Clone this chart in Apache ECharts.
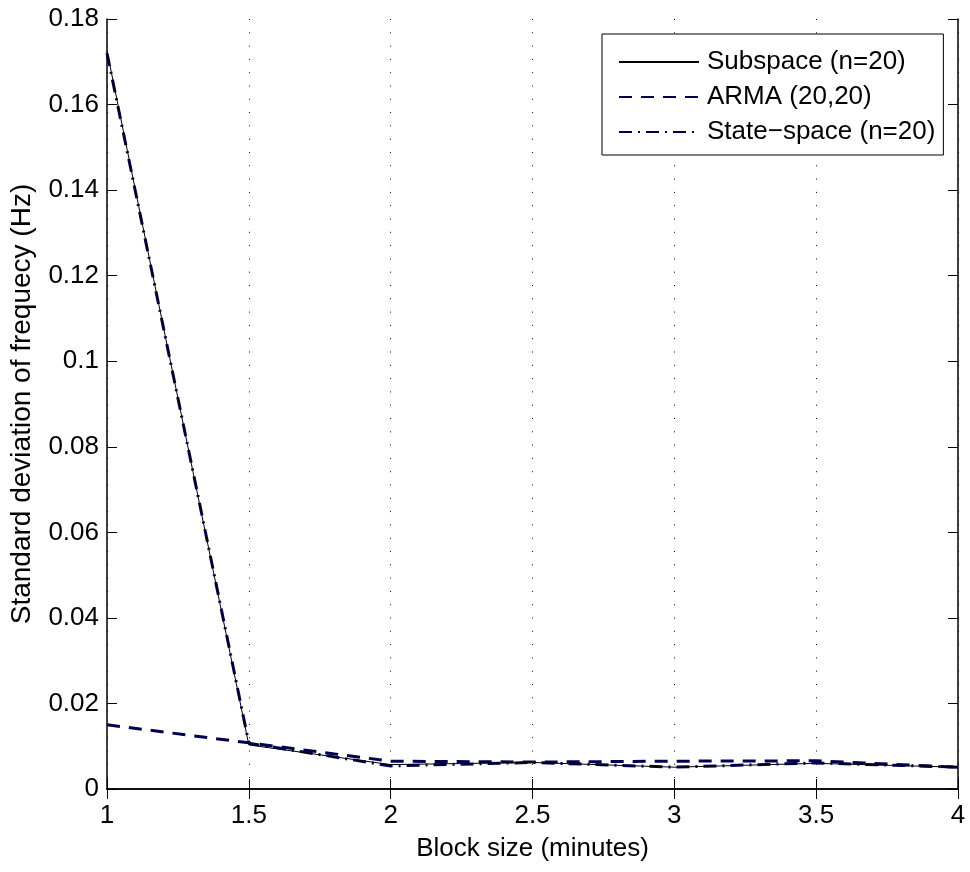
<!DOCTYPE html>
<html>
<head>
<meta charset="utf-8">
<script src="https://cdn.jsdelivr.net/npm/echarts@6/dist/echarts.min.js"></script>
<style>html,body{margin:0;padding:0;background:#fff;}#chart{width:970px;height:872px;}</style>
</head>
<body>
<div id="chart"></div>
<script>
var blockSizes = [1, 1.5, 2, 2.5, 3, 3.5, 4];
var subspace = [0.1725, 0.0103, 0.0057, 0.0062, 0.0051, 0.0060, 0.0051];
var arma = [0.0150, 0.0108, 0.0065, 0.0063, 0.0065, 0.0066, 0.0051];
var stateSpace = [0.1720, 0.0107, 0.0054, 0.0062, 0.0051, 0.0061, 0.0051];
var seriesNames = ['Subspace (n=20)', 'ARMA (20,20)', 'State\u2212space (n=20)'];
var xTicks = ['1', '1.5', '2', '2.5', '3', '3.5', '4'];
var yTicks = ['0', '0.02', '0.04', '0.06', '0.08', '0.1', '0.12', '0.14', '0.16', '0.18'];

function pairs(ys) { return blockSizes.map(function (x, i) { return [x, ys[i]]; }); }
var font = 'Liberation Sans, Arial, Helvetica, sans-serif';
var navy = '#000050';
var fs = 26;

var chart = echarts.init(document.getElementById('chart'));
chart.setOption({
  animation: false,
  backgroundColor: '#fff',
  textStyle: { fontFamily: font },
  grid: { left: 107, right: 12, top: 19, bottom: 83, containLabel: false, outerBoundsMode: 'none' },
  legend: {
    orient: 'vertical',
    left: 602, top: 34,
    backgroundColor: '#fff',
    borderColor: '#000', borderWidth: 1,
    padding: [15, 8, 10, 16],
    itemWidth: 80, itemHeight: 14, itemGap: 9,
    itemStyle: { opacity: 0 },
    textStyle: { fontSize: fs, color: '#000', fontFamily: font, padding: [0, 0, 0, 3] },
    data: seriesNames
  },
  xAxis: [{
    type: 'value', min: 1, max: 4, interval: 0.5,
    name: 'Block size (minutes)', nameLocation: 'middle', nameGap: 47,
    nameTextStyle: { fontSize: fs, color: '#000' },
    axisLine: { lineStyle: { color: '#000', width: 1.5 } },
    axisTick: { inside: true, length: 10, lineStyle: { color: '#000' } },
    axisLabel: { fontSize: fs, color: '#000', margin: 14,
      formatter: function (v) { var i = Math.round((v - 1) / 0.5); return xTicks[i] || ''; } },
    splitLine: { show: true, lineStyle: { color: '#000', type: [1, 12.3], width: 1 } }
  }, {
    type: 'value', min: 1, max: 4, interval: 0.5, position: 'top',
    axisLine: { lineStyle: { color: '#000', width: 1.5 } },
    axisTick: { inside: true, length: 10, lineStyle: { color: '#000' } },
    axisLabel: { show: false }, splitLine: { show: false }
  }],
  yAxis: [{
    type: 'value', min: 0, max: 0.18, interval: 0.02,
    name: 'Standard deviation of frequecy (Hz)', nameLocation: 'middle', nameGap: 71,
    nameTextStyle: { fontSize: 28, color: '#000' },
    axisLine: { show: true, lineStyle: { color: '#000', width: 1.5 } },
    axisTick: { show: true, inside: true, length: 10, lineStyle: { color: '#000' } },
    axisLabel: { fontSize: fs, color: '#000', margin: 8,
      formatter: function (v) { var i = Math.round(v / 0.02); return yTicks[i] || ''; } },
    splitLine: { show: false }
  }, {
    type: 'value', min: 0, max: 0.18, interval: 0.02, position: 'right',
    axisLine: { show: true, lineStyle: { color: '#000', width: 1.5 } },
    axisTick: { show: true, inside: true, length: 10, lineStyle: { color: '#000' } },
    axisLabel: { show: false }, splitLine: { show: false }
  }],
  series: [{
    name: seriesNames[0], type: 'line', symbol: 'none', data: pairs(subspace),
    lineStyle: { color: '#000', width: 1, type: 'solid' }, itemStyle: { color: '#000' }, z: 4
  }, {
    name: seriesNames[1], type: 'line', symbol: 'none', data: pairs(arma),
    lineStyle: { color: navy, width: 3, type: [13, 9] }, itemStyle: { color: navy }, z: 3
  }, {
    name: seriesNames[2], type: 'line', symbol: 'none', data: pairs(stateSpace),
    lineStyle: { color: navy, width: 3, type: [13, 6, 2, 6] }, itemStyle: { color: navy }, z: 2
  }]
});
</script>
</body>
</html>
